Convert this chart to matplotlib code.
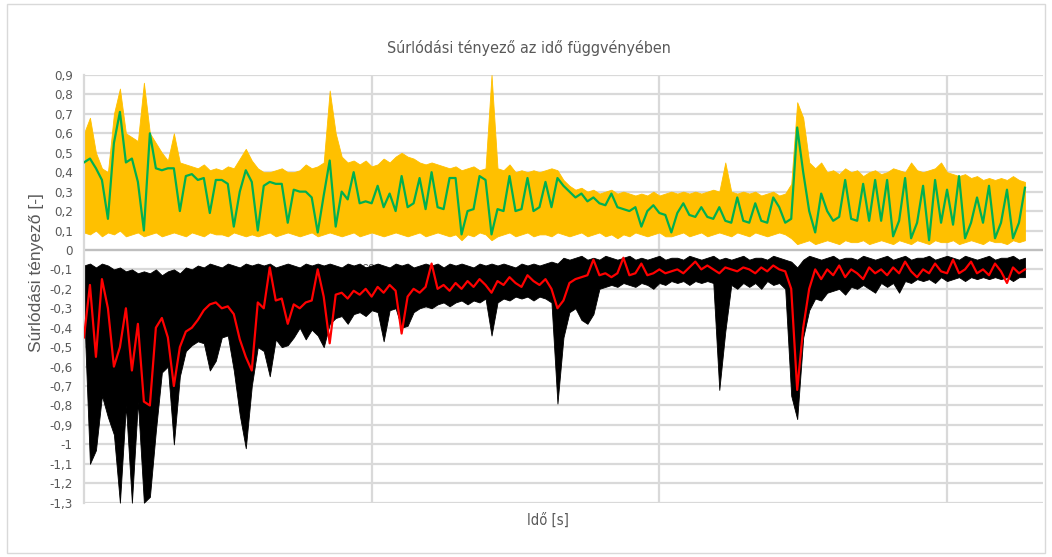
import numpy as np
import matplotlib
matplotlib.use('Agg')
import matplotlib.pyplot as plt
from matplotlib import font_manager
from matplotlib.patches import Rectangle

dt = 12.5

# positive direction: raw band (min / max per step) and smoothed curve
yellow_hi = [
    0.60, 0.68, 0.50, 0.42, 0.40, 0.70, 0.83, 0.60, 0.58, 0.56,
    0.86, 0.60, 0.55, 0.50, 0.46, 0.60, 0.45, 0.44, 0.43, 0.42,
    0.44, 0.41, 0.42, 0.41, 0.43, 0.42, 0.47, 0.52, 0.46, 0.42,
    0.40, 0.40, 0.41, 0.42, 0.40, 0.40, 0.41, 0.44, 0.42, 0.43,
    0.45, 0.82, 0.60, 0.48, 0.45, 0.46, 0.44, 0.46, 0.43, 0.44,
    0.47, 0.45, 0.48, 0.50, 0.48, 0.47, 0.45, 0.44, 0.45, 0.44,
    0.43, 0.42, 0.43, 0.41, 0.42, 0.43, 0.41, 0.42, 0.90, 0.42,
    0.41, 0.44, 0.40, 0.41, 0.40, 0.41, 0.40, 0.41, 0.42, 0.41,
    0.36, 0.33, 0.31, 0.32, 0.30, 0.31, 0.29, 0.30, 0.31, 0.29,
    0.30, 0.29, 0.28, 0.29, 0.28, 0.30, 0.28, 0.29, 0.30, 0.29,
    0.30, 0.29, 0.30, 0.29, 0.30, 0.31, 0.30, 0.45, 0.30, 0.29,
    0.30, 0.29, 0.30, 0.28, 0.29, 0.30, 0.28, 0.29, 0.34, 0.76,
    0.68, 0.45, 0.42, 0.45, 0.40, 0.41, 0.39, 0.42, 0.40, 0.41,
    0.38, 0.40, 0.41, 0.39, 0.40, 0.42, 0.41, 0.40, 0.45, 0.41,
    0.40, 0.41, 0.42, 0.45, 0.40, 0.39, 0.38, 0.39, 0.37, 0.38,
    0.36, 0.37, 0.36, 0.37, 0.36, 0.38, 0.36, 0.35,
]
yellow_lo = [
    0.09, 0.08, 0.10, 0.07, 0.09, 0.08, 0.10, 0.07, 0.08, 0.09,
    0.07, 0.08, 0.09, 0.07, 0.08, 0.09, 0.08, 0.07, 0.09, 0.08,
    0.07, 0.09, 0.08, 0.08, 0.07, 0.09, 0.08, 0.07, 0.08, 0.07,
    0.08, 0.09, 0.07, 0.08, 0.09, 0.08, 0.07, 0.08, 0.09, 0.07,
    0.08, 0.09, 0.08, 0.07, 0.08, 0.09, 0.07, 0.08, 0.09, 0.08,
    0.07, 0.08, 0.09, 0.08, 0.07, 0.08, 0.09, 0.07, 0.08, 0.09,
    0.08, 0.07, 0.08, 0.05, 0.08, 0.07, 0.09, 0.08, 0.05, 0.07,
    0.08, 0.09, 0.07, 0.08, 0.09, 0.07, 0.08, 0.08, 0.07, 0.09,
    0.08, 0.07, 0.08, 0.09, 0.07, 0.08, 0.09, 0.07, 0.08, 0.06,
    0.08, 0.07, 0.09, 0.08, 0.07, 0.08, 0.09, 0.07, 0.07, 0.08,
    0.09, 0.07, 0.08, 0.09, 0.07, 0.08, 0.09, 0.08, 0.07, 0.09,
    0.08, 0.07, 0.09, 0.08, 0.07, 0.08, 0.09, 0.08, 0.06, 0.03,
    0.04, 0.05, 0.03, 0.04, 0.05, 0.04, 0.03, 0.05, 0.04, 0.04,
    0.05, 0.03, 0.04, 0.05, 0.04, 0.03, 0.05, 0.04, 0.03, 0.05,
    0.04, 0.03, 0.05, 0.04, 0.04, 0.05, 0.03, 0.04, 0.05, 0.04,
    0.03, 0.05, 0.04, 0.04, 0.03, 0.05, 0.04, 0.05,
]
green = [
    0.45, 0.47, 0.42, 0.36, 0.16, 0.55, 0.71, 0.45, 0.47, 0.35,
    0.10, 0.60, 0.42, 0.41, 0.42, 0.42, 0.20, 0.38, 0.39, 0.36,
    0.37, 0.19, 0.36, 0.36, 0.34, 0.12, 0.30, 0.41, 0.35, 0.10,
    0.33, 0.35, 0.34, 0.34, 0.14, 0.31, 0.30, 0.30, 0.27, 0.09,
    0.28, 0.46, 0.12, 0.30, 0.26, 0.40, 0.24, 0.25, 0.24, 0.33,
    0.22, 0.29, 0.20, 0.38, 0.22, 0.24, 0.37, 0.21, 0.40, 0.22,
    0.21, 0.37, 0.37, 0.08, 0.20, 0.21, 0.38, 0.36, 0.08, 0.21,
    0.20, 0.38, 0.20, 0.21, 0.37, 0.20, 0.22, 0.35, 0.22, 0.37,
    0.33, 0.30, 0.27, 0.29, 0.25, 0.27, 0.24, 0.23, 0.29, 0.22,
    0.21, 0.20, 0.22, 0.12, 0.20, 0.23, 0.19, 0.18, 0.09, 0.19,
    0.24, 0.18, 0.17, 0.22, 0.17, 0.16, 0.22, 0.15, 0.14, 0.27,
    0.15, 0.14, 0.24, 0.15, 0.14, 0.27, 0.22, 0.14, 0.16, 0.63,
    0.40, 0.20, 0.09, 0.29, 0.20, 0.15, 0.17, 0.36, 0.16, 0.15,
    0.34, 0.15, 0.36, 0.15, 0.36, 0.07, 0.15, 0.37, 0.06, 0.14,
    0.33, 0.05, 0.36, 0.14, 0.31, 0.13, 0.38, 0.06, 0.14, 0.27,
    0.14, 0.33, 0.06, 0.14, 0.31, 0.06, 0.14, 0.32,
]

# negative direction: raw band and smoothed curve
black_hi = [
    -0.08, -0.07, -0.09, -0.07, -0.08, -0.10, -0.09, -0.11, -0.10, -0.12,
    -0.11, -0.12, -0.10, -0.13, -0.11, -0.10, -0.12, -0.09, -0.10, -0.08,
    -0.09, -0.07, -0.08, -0.09, -0.07, -0.08, -0.09, -0.07, -0.08, -0.07,
    -0.08, -0.07, -0.09, -0.08, -0.07, -0.08, -0.09, -0.07, -0.08, -0.07,
    -0.08, -0.07, -0.08, -0.09, -0.07, -0.08, -0.07, -0.09, -0.08, -0.07,
    -0.08, -0.09, -0.07, -0.08, -0.07, -0.09, -0.08, -0.07, -0.08, -0.07,
    -0.09, -0.07, -0.08, -0.07, -0.08, -0.09, -0.07, -0.08, -0.07, -0.08,
    -0.07, -0.08, -0.09, -0.07, -0.08, -0.07, -0.08, -0.07, -0.06, -0.07,
    -0.04, -0.05, -0.04, -0.03, -0.05, -0.04, -0.05, -0.03, -0.04, -0.05,
    -0.04, -0.03, -0.05, -0.04, -0.05, -0.04, -0.03, -0.05, -0.04, -0.04,
    -0.05, -0.03, -0.04, -0.05, -0.04, -0.03, -0.05, -0.04, -0.05, -0.04,
    -0.03, -0.05, -0.04, -0.04, -0.05, -0.03, -0.04, -0.05, -0.06, -0.09,
    -0.05, -0.03, -0.04, -0.05, -0.04, -0.03, -0.05, -0.04, -0.04, -0.05,
    -0.03, -0.04, -0.05, -0.04, -0.03, -0.05, -0.04, -0.03, -0.05, -0.04,
    -0.04, -0.03, -0.05, -0.04, -0.03, -0.04, -0.05, -0.03, -0.04, -0.05,
    -0.04, -0.03, -0.05, -0.04, -0.04, -0.03, -0.05, -0.04,
]
black_lo = [
    -0.30, -1.10, -1.03, -0.75, -0.86, -0.95, -1.30, -0.80, -1.30, -0.78,
    -1.30, -1.27, -0.93, -0.63, -0.60, -1.00, -0.65, -0.52, -0.49, -0.47,
    -0.48, -0.62, -0.57, -0.45, -0.44, -0.62, -0.85, -1.02, -0.70, -0.50,
    -0.52, -0.65, -0.46, -0.50, -0.49, -0.45, -0.40, -0.46, -0.41, -0.44,
    -0.50, -0.38, -0.35, -0.34, -0.38, -0.33, -0.32, -0.34, -0.31, -0.32,
    -0.47, -0.31, -0.30, -0.40, -0.39, -0.32, -0.30, -0.29, -0.30, -0.28,
    -0.27, -0.29, -0.27, -0.26, -0.28, -0.26, -0.27, -0.25, -0.44, -0.27,
    -0.25, -0.26, -0.24, -0.25, -0.24, -0.26, -0.24, -0.25, -0.27, -0.79,
    -0.45, -0.32, -0.30, -0.36, -0.38, -0.33, -0.20, -0.19, -0.18, -0.19,
    -0.17, -0.18, -0.19, -0.17, -0.18, -0.20, -0.17, -0.18, -0.16, -0.17,
    -0.16, -0.18, -0.16, -0.17, -0.16, -0.17, -0.72, -0.42, -0.18, -0.20,
    -0.17, -0.19, -0.17, -0.20, -0.16, -0.18, -0.17, -0.20, -0.75, -0.87,
    -0.45, -0.31, -0.25, -0.26, -0.22, -0.21, -0.20, -0.23, -0.19, -0.20,
    -0.18, -0.20, -0.22, -0.17, -0.19, -0.17, -0.22, -0.16, -0.17, -0.15,
    -0.16, -0.15, -0.17, -0.14, -0.16, -0.15, -0.14, -0.16, -0.14, -0.15,
    -0.14, -0.15, -0.14, -0.15, -0.14, -0.16, -0.14, -0.14,
]
red = [
    -0.45, -0.18, -0.55, -0.15, -0.30, -0.60, -0.50, -0.30, -0.62, -0.38,
    -0.78, -0.80, -0.40, -0.35, -0.45, -0.70, -0.50, -0.42, -0.40, -0.36,
    -0.31, -0.28, -0.27, -0.30, -0.29, -0.33, -0.46, -0.55, -0.62, -0.27,
    -0.30, -0.09, -0.26, -0.25, -0.38, -0.28, -0.30, -0.27, -0.26, -0.10,
    -0.24, -0.48, -0.23, -0.22, -0.25, -0.21, -0.23, -0.20, -0.24, -0.19,
    -0.22, -0.18, -0.21, -0.43, -0.24, -0.20, -0.22, -0.19, -0.07, -0.20,
    -0.18, -0.21, -0.17, -0.20, -0.16, -0.19, -0.15, -0.18, -0.22, -0.16,
    -0.18, -0.14, -0.17, -0.19, -0.13, -0.16, -0.18, -0.15, -0.20, -0.30,
    -0.26, -0.17, -0.15, -0.14, -0.13, -0.05, -0.13, -0.12, -0.14, -0.12,
    -0.04, -0.13, -0.12, -0.07, -0.13, -0.12, -0.10, -0.12, -0.11, -0.10,
    -0.12, -0.09, -0.06, -0.10, -0.08, -0.10, -0.12, -0.09, -0.10, -0.11,
    -0.09, -0.10, -0.12, -0.09, -0.11, -0.08, -0.10, -0.11, -0.20, -0.72,
    -0.40, -0.20, -0.10, -0.15, -0.10, -0.13, -0.08, -0.14, -0.10, -0.12,
    -0.15, -0.09, -0.12, -0.10, -0.13, -0.09, -0.12, -0.06, -0.11, -0.14,
    -0.10, -0.12, -0.07, -0.11, -0.12, -0.05, -0.12, -0.10, -0.06, -0.12,
    -0.10, -0.13, -0.07, -0.11, -0.17, -0.09, -0.12, -0.10,
]

x_ticks = [600, 1200, 1800]
x_tick_labels = ['600', '1200', '1800']

title = 'Súrlódási tényező az idő függvényében'
y_label = 'Súrlódási tényező [-]'
x_label = 'Idő [s]'

text_color = '#595959'
grid_color = '#d9d9d9'


def pick_narrow_font():
    # the original uses a narrow Office font; take a condensed face if one is installed
    for f in font_manager.fontManager.ttflist:
        if f.style != 'normal' or f.weight not in (400, 'normal', 'regular'):
            continue
        tag = (f.name + ' ' + str(f.stretch)).lower()
        if 'narrow' in tag or 'condensed' in tag:
            return font_manager.FontProperties(fname=f.fname), True
    return font_manager.FontProperties(family=['Liberation Sans', 'DejaVu Sans']), False


narrow_fp, is_narrow = pick_narrow_font()
plt.rcParams['font.family'] = ['Liberation Sans', 'DejaVu Sans']


def fmt(v, _pos=None):
    v = round(v, 1)
    if v == int(v):
        return str(int(v))
    return f'{v:.1f}'.replace('.', ',')


t = np.arange(len(green)) * dt

fig = plt.figure(figsize=(10.52, 5.57), dpi=100)
fig.patches.append(Rectangle((0.007, 0.008), 0.986, 0.984, transform=fig.transFigure,
                             fill=False, edgecolor=grid_color, lw=1))
ax = fig.add_axes([0.0798, 0.0975, 0.9116, 0.7679])

# gridlines
for v in np.round(np.arange(-1.3, 0.95, 0.1), 1):
    ax.axhline(v, color=grid_color, lw=1.6, zorder=0)
for xv in x_ticks:
    ax.axvline(xv, color=grid_color, lw=1.6, zorder=0)
ax.axhline(0, color='#bfbfbf', lw=1.6, zorder=0)

# category labels sit under the zero line, mostly hidden by the data
for xv, lab in zip(x_ticks, x_tick_labels):
    ax.text(xv, -0.07, lab, ha='center', va='top', fontsize=9, color=text_color, zorder=0.5)

ax.fill_between(t, yellow_lo, yellow_hi, color='#FFC000', lw=0.6, zorder=2)
ax.plot(t, green, color='#00B050', lw=1.6, zorder=3)
ax.fill_between(t, black_lo, black_hi, color='#000000', lw=0.6, zorder=2)
ax.plot(t, red, color='#FF0000', lw=1.6, zorder=3)

ax.set_xlim(0, 2000)
ax.set_ylim(-1.3, 0.9)
ax.set_yticks(np.round(np.arange(-1.3, 0.95, 0.1), 1))
ax.yaxis.set_major_formatter(plt.FuncFormatter(fmt))
ax.set_xticks([])
ax.tick_params(axis='y', length=0, pad=8, labelsize=9, labelcolor=text_color)
for lab in ax.get_yticklabels():
    lab.set_fontproperties(narrow_fp)
    lab.set_fontsize(9.5 if is_narrow else 9)
for side in ['top', 'right', 'bottom']:
    ax.spines[side].set_visible(False)
ax.spines['left'].set_color(grid_color)
ax.spines['left'].set_linewidth(1.6)

fig.text(0.503, 0.913, title, ha='center', va='center', color=text_color,
         fontproperties=narrow_fp, fontsize=11.5 if is_narrow else 10.5)
fig.text(0.035, 0.51, y_label, ha='center', va='center', rotation=90,
         fontsize=12.5, color=text_color)
fig.text(0.521, 0.066, x_label, ha='center', va='center', color=text_color,
         fontproperties=narrow_fp, fontsize=10.5 if is_narrow else 9.5)

fig.savefig('out.png', dpi=100)
